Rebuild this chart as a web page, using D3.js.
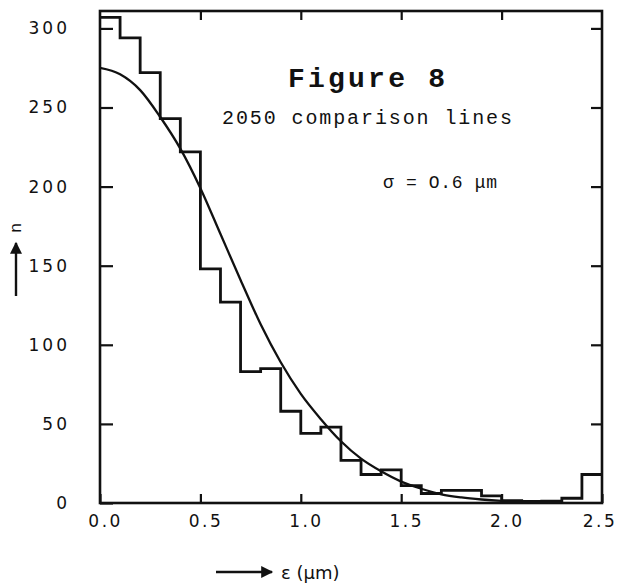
<!DOCTYPE html>
<html>
<head>
<meta charset="utf-8">
<script src="https://cdn.jsdelivr.net/npm/d3@7"></script>
<style>
  body { margin: 0; background: #fff; }
  .tick text { font-family: "DejaVu Sans", sans-serif; font-size: 17px; fill: #111; }
</style>
</head>
<body>
<div id="chart"></div>
<script>
var svgWidth = 617;
var svgHeight = 588;

// histogram: bin starts (um) and counts
var binStarts = [0.0, 0.1, 0.2, 0.3, 0.4, 0.5, 0.6, 0.7, 0.8, 0.9, 1.0, 1.1, 1.2,
  1.3, 1.4, 1.5, 1.6, 1.7, 1.8, 1.9, 2.0, 2.1, 2.2, 2.3, 2.4];
var binCounts = [307, 294, 272, 243, 222, 148, 127, 83, 85, 58, 44, 48, 27,
  18, 21, 11, 6, 8, 8, 4.5, 1.5, 1, 1.2, 3, 18];
var binWidth = 0.1;

// fitted curve
var curveX = [0.0, 0.1, 0.2, 0.3, 0.4, 0.5, 0.6, 0.7, 0.8, 0.9, 1.0, 1.1, 1.2,
  1.3, 1.4, 1.5, 1.6, 1.7, 1.8, 1.9, 2.0, 2.1, 2.2, 2.3];
var curveY = [275, 271, 261, 244, 224, 199, 170, 141, 113, 89, 69, 53, 39,
  28, 20, 13.5, 9, 5.5, 3.5, 2.2, 1.3, 0.8, 0.4, 0.2];

var xTicks = [0.0, 0.5, 1.0, 1.5, 2.0, 2.5];
var xInnerTicks = [0.5, 1.0, 1.5, 2.0];
var yTicks = [0, 50, 100, 150, 200, 250, 300];

var svg = d3
  .select("#chart")
  .append("svg")
  .attr("width", svgWidth)
  .attr("height", svgHeight);

var xScale = d3.scaleLinear().domain([0, 2.5]).range([100, 602]);
var yScale = d3.scaleLinear().domain([0, 311]).range([503, 11]);

// axes with inward ticks
var bottomAxis = d3.axisBottom(xScale)
  .tickValues(xTicks)
  .tickFormat(d3.format(".1f"))
  .tickSize(-9)
  .tickPadding(12);
var leftAxis = d3.axisLeft(yScale)
  .tickValues(yTicks)
  .tickFormat(d3.format("d"))
  .tickSize(-13)
  .tickPadding(30);
var topAxis = d3.axisTop(xScale).tickValues(xInnerTicks).tickSize(-9).tickFormat("");
var rightAxis = d3.axisRight(yScale).tickValues(yTicks.slice(1)).tickSize(-11).tickFormat("");

function styleAxis(g) {
  g.select(".domain").remove();
  g.selectAll(".tick line").attr("stroke", "#111").attr("stroke-width", 2.2);
}

svg.append("g").attr("transform", "translate(0," + yScale(0) + ")").call(bottomAxis).call(styleAxis)
  .selectAll("text").attr("dx", (d) => (d === 2.5 ? "-0.15em" : "0.3em")).style("letter-spacing", "2.5px");
svg.append("g").attr("transform", "translate(" + xScale(0) + ",0)").call(leftAxis).call(styleAxis)
  .selectAll("text").style("letter-spacing", "3px");
svg.append("g").attr("transform", "translate(0," + yScale(311) + ")").call(topAxis).call(styleAxis);
svg.append("g").attr("transform", "translate(" + xScale(2.5) + ",0)").call(rightAxis).call(styleAxis);

// frame
svg.append("rect")
  .attr("x", xScale(0))
  .attr("y", yScale(311))
  .attr("width", xScale(2.5) - xScale(0))
  .attr("height", yScale(0) - yScale(311))
  .attr("fill", "none")
  .attr("stroke", "#111")
  .attr("stroke-width", 2.6);

// histogram steps
var histPoints = binStarts.map((d, i) => [d, binCounts[i]]);
histPoints.push([binStarts[binStarts.length - 1] + binWidth, binCounts[binCounts.length - 1]]);
var stepLine = d3.line()
  .x((d) => xScale(d[0]))
  .y((d) => yScale(d[1]))
  .curve(d3.curveStepAfter);
svg.append("path")
  .attr("d", stepLine(histPoints))
  .attr("fill", "none")
  .attr("stroke", "#111")
  .attr("stroke-width", 2.8);

// fitted curve
var curvePoints = curveX.map((d, i) => [d, curveY[i]]);
var smoothLine = d3.line()
  .x((d) => xScale(d[0]))
  .y((d) => yScale(d[1]))
  .curve(d3.curveMonotoneX);
svg.append("path")
  .attr("d", smoothLine(curvePoints))
  .attr("fill", "none")
  .attr("stroke", "#111")
  .attr("stroke-width", 2.3);

// annotations
svg.append("text")
  .text("Figure 8")
  .attr("x", 288)
  .attr("y", 87)
  .attr("textLength", 157)
  .attr("lengthAdjust", "spacing")
  .style("font-family", "Liberation Mono, monospace")
  .style("font-weight", "bold")
  .style("font-size", "28px")
  .attr("fill", "#111");
svg.append("text")
  .text("2050 comparison lines")
  .attr("x", 222)
  .attr("y", 124)
  .attr("textLength", 290)
  .attr("lengthAdjust", "spacing")
  .style("font-family", "Liberation Mono, monospace")
  .style("font-size", "20px")
  .attr("fill", "#111");
svg.append("text")
  .text("σ = O.6 μm")
  .attr("x", 383)
  .attr("y", 188)
  .attr("textLength", 114)
  .attr("lengthAdjust", "spacing")
  .style("font-family", "Liberation Mono, monospace")
  .style("font-size", "18px")
  .attr("fill", "#111");

// axis titles with arrows
svg.append("defs").append("marker")
  .attr("id", "arrow")
  .attr("viewBox", "0 0 10 10")
  .attr("refX", 9)
  .attr("refY", 5)
  .attr("markerWidth", 6)
  .attr("markerHeight", 5)
  .attr("orient", "auto")
  .append("path")
  .attr("d", "M0,0L10,5L0,10z")
  .attr("fill", "#111");

svg.append("line")
  .attr("x1", 16).attr("y1", 296)
  .attr("x2", 16).attr("y2", 243)
  .attr("stroke", "#111")
  .attr("stroke-width", 2.4)
  .attr("marker-end", "url(#arrow)");
svg.append("text")
  .text("n")
  .style("text-anchor", "middle")
  .style("font-family", "Liberation Mono, monospace")
  .style("font-size", "17px")
  .attr("fill", "#111")
  .attr("transform", "translate(21,228) rotate(-90)");

svg.append("line")
  .attr("x1", 216).attr("y1", 572)
  .attr("x2", 272).attr("y2", 572)
  .attr("stroke", "#111")
  .attr("stroke-width", 2.4)
  .attr("marker-end", "url(#arrow)");
svg.append("text")
  .text("ε (μm)")
  .attr("x", 281)
  .attr("y", 579)
  .style("font-family", "DejaVu Sans, sans-serif")
  .style("font-size", "18px")
  .attr("fill", "#111");
</script>
</body>
</html>
